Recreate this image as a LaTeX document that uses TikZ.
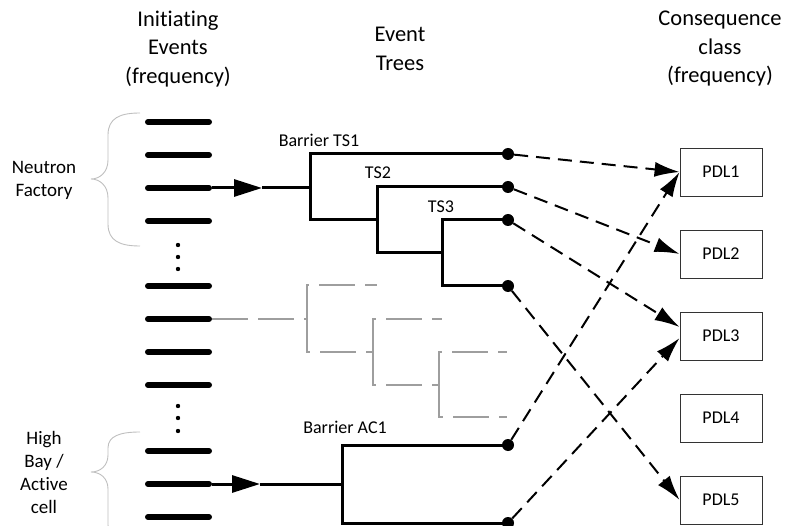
\documentclass[tikz,border=0pt]{standalone}
\usepackage{fontspec}
\setmainfont{Carlito}[Ligatures=NoCommon]
\usetikzlibrary{arrows.meta,positioning}

\begin{document}
\begin{tikzpicture}[x=1pt,y=-1pt,every node/.style={font=\fontsize{18}{23}\selectfont}]
	% Styles for the elements
	\tikzstyle{eventbar}	= [line width=6pt, line cap=round]
	\tikzstyle{branch}		= [line width=3pt]
	\tikzstyle{ghostbranch}	= [line width=1.8pt, draw=black!38, dash pattern=on 36pt off 10pt]
	\tikzstyle{feed}		= [line width=3pt, -{Triangle[length=28pt,width=17pt]}]
	\tikzstyle{outcome}		= [circle, fill=black, inner sep=0pt, minimum size=12pt]
	\tikzstyle{consequence}	= [rectangle, draw=black!80, line width=0.8pt, minimum width=82pt, minimum height=48pt]
	\tikzstyle{link}		= [line width=2pt, dash pattern=on 14pt off 8pt, -{Latex[length=25pt,width=15pt]}]
	\tikzstyle{bracecurve}	= [line width=0.9pt, draw=black!25]
	\tikzstyle{heading}		= [align=center, font=\fontsize{22.5}{28.5}\selectfont]

	\useasboundingbox (0,0) rectangle (786,526);
	\clip (0,0) rectangle (786,526);

	% Headings on top
	\node[heading] (ie_heading)   at (178,49) {Initiating\\Events\\(frequency)};
	\node[heading] (tree_heading) at (400,49) {Event\\Trees};
	\node[heading] (cc_heading)   at (720,49) {Consequence\\class\\(frequency)};

	% Initiating events
	\foreach \y in {122,155,188,221,286,319,352,385,451,484,517}
		\draw[eventbar] (148,\y) -- (209,\y);
	\foreach \y in {245,257,269,406,418,431}
		\fill (178,\y) circle (2.2pt);

	\coordinate (nf_event)    at (212,188);
	\coordinate (grey_event)  at (212,319);
	\coordinate (hb_event)    at (212,484);
	\coordinate (nf_tip)      at (262,188);
	\coordinate (hb_tip)      at (260,484);

	% Braces and groups
	\draw[bracecurve] (140,113) .. controls (120,113) and (108,118) .. (108,135) -- (108,160)
		.. controls (108,172) and (100,179) .. (91,179) .. controls (100,179) and (108,186) .. (108,198)
		-- (108,224) .. controls (108,241) and (120,246) .. (140,246);
	\draw[bracecurve] (140,432) .. controls (120,432) and (108,436) .. (108,448) -- (108,455)
		.. controls (108,466) and (100,472) .. (91,472) .. controls (100,472) and (108,478) .. (108,489)
		-- (108,525) .. controls (108,538) and (120,542) .. (140,542);
	\node[align=center, font=\fontsize{19}{23}\selectfont] (nf_group) at (44,180) {Neutron\\Factory};
	\node[align=center, font=\fontsize{19}{23}\selectfont] (hb_group) at (44,472) {High\\Bay /\\Active\\cell};

	% Consequence classes
	\node[consequence] (pdl1) at (721,172) {PDL1};
	\node[consequence] (pdl2) [below of=pdl1, node distance=82pt] {PDL2};
	\node[consequence] (pdl3) [below of=pdl2, node distance=82pt] {PDL3};
	\node[consequence] (pdl4) [below of=pdl3, node distance=82pt] {PDL4};
	\node[consequence] (pdl5) [below of=pdl4, node distance=82pt] {PDL5};

	% End states of the trees
	\node[outcome] (outcome_1) at (508,154) {};
	\node[outcome] (outcome_2) at (508,187) {};
	\node[outcome] (outcome_3) at (508,220) {};
	\node[outcome] (outcome_4) at (508,286) {};
	\node[outcome] (outcome_5) at (508,445) {};
	\node[outcome] (outcome_6) at (508,523) {};

	% Event tree, Neutron Factory
	\draw[feed] (nf_event) -- (nf_tip);
	\draw[branch] (nf_tip) -- (310,188);
	\draw[branch] (outcome_1.center) -- (310,154) -- (310,220) -- (377,220);
	\draw[branch] (outcome_2.center) -- (377,187) -- (377,253) -- (442,253);
	\draw[branch] (outcome_3.center) -- (442,220) -- (442,286) -- (outcome_4.center);
	\node (ts1_label) at (319,140) {Barrier TS1};
	\node (ts2_label) at (378,173) {TS2};
	\node (ts3_label) at (441,207) {TS3};

	% Greyed tree in between
	\draw[ghostbranch] (grey_event) -- (307,319);
	\draw[ghostbranch] (307,319) -- (307,285) -- (377,285);
	\draw[ghostbranch] (307,319) -- (307,352) -- (373,352);
	\draw[ghostbranch] (373,352) -- (373,319) -- (442,319);
	\draw[ghostbranch] (373,352) -- (373,385) -- (439,385);
	\draw[ghostbranch] (439,385) -- (439,352) -- (507,352);
	\draw[ghostbranch] (439,385) -- (439,417) -- (507,417);

	% Event tree, High Bay / Active cell
	\draw[feed] (hb_event) -- (hb_tip);
	\draw[branch] (hb_tip) -- (342,484);
	\draw[branch] (outcome_5.center) -- (342,445) -- (342,523) -- (outcome_6.center);
	\node (ac1_label) at (345,427) {Barrier AC1};

	% Links to consequence classes
	\draw[link] (outcome_1) -- (pdl1.west);
	\draw[link] (outcome_2) -- (pdl2.west);
	\draw[link] (outcome_3) -- ([yshift=9pt]pdl3.west);
	\draw[link] (outcome_4) -- (pdl5.west);
	\draw[link] (outcome_5) -- (pdl1.west);
	\draw[link] (outcome_6) -- ([yshift=-2pt]pdl3.west);
\end{tikzpicture}
\end{document}
